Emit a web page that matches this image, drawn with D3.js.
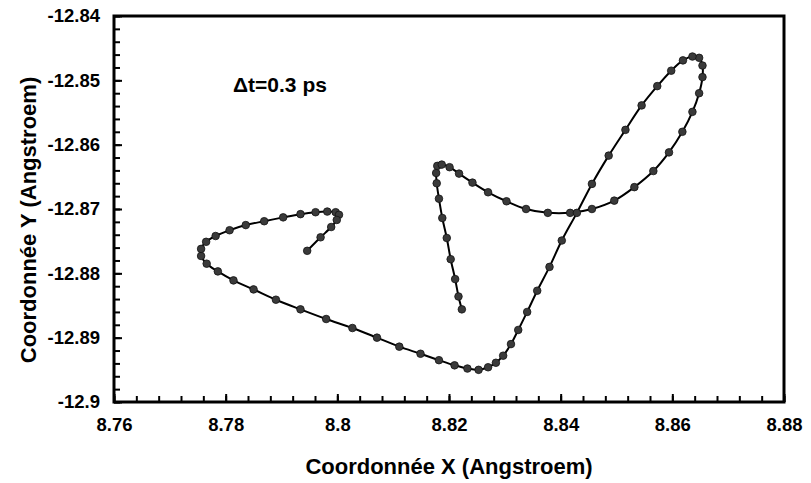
<!DOCTYPE html>
<html>
<head>
<meta charset="utf-8">
<script src="https://cdn.jsdelivr.net/npm/d3@7"></script>
<style>
  body { margin: 0; background: #fff; }
  svg { display: block; font-family: "Liberation Sans", Arial, sans-serif; font-weight: bold; }
</style>
</head>
<body>
<div id="chart"></div>
<script>
// trajectory, in order (x then y, Angstroem)
const xs = [8.8223, 8.8217, 8.8211, 8.8203, 8.8196, 8.8188, 8.8182, 8.8178, 8.8177, 8.8179,
  8.8187, 8.8201, 8.8218, 8.8242, 8.8270, 8.8303, 8.8338, 8.8377, 8.8417, 8.8456,
  8.8496, 8.8532, 8.8566, 8.8594, 8.8618, 8.8636, 8.8648, 8.8654, 8.8654, 8.8648,
  8.8636, 8.8619, 8.8598, 8.8573, 8.8545, 8.8516, 8.8486, 8.8456, 8.8429, 8.8402,
  8.8380, 8.8358, 8.8340, 8.8324, 8.8311, 8.8297, 8.8284, 8.8270, 8.8253, 8.8233,
  8.8210, 8.8182, 8.8149, 8.8111, 8.8071, 8.8027, 8.7980, 8.7934, 8.7890, 8.7850,
  8.7814, 8.7786, 8.7766, 8.7756, 8.7756, 8.7765, 8.7782, 8.7807, 8.7836, 8.7869,
  8.7903, 8.7934, 8.7961, 8.7982, 8.7997, 8.8003, 8.7999, 8.7989, 8.7970, 8.7946]
const ys = [-12.8856, -12.8836, -12.8809, -12.8778, -12.8745, -12.8714, -12.8684, -12.8660, -12.8644, -12.8633,
  -12.8631, -12.8635, -12.8645, -12.8659, -12.8674, -12.8688, -12.8700, -12.8706, -12.8706, -12.8700,
  -12.8687, -12.8666, -12.8641, -12.8612, -12.8580, -12.8549, -12.8520, -12.8495, -12.8477, -12.8465,
  -12.8463, -12.8469, -12.8485, -12.8509, -12.8539, -12.8577, -12.8617, -12.8661, -12.8706, -12.8749,
  -12.8790, -12.8827, -12.8860, -12.8888, -12.8910, -12.8928, -12.8939, -12.8946, -12.8950, -12.8948,
  -12.8943, -12.8935, -12.8925, -12.8914, -12.8900, -12.8885, -12.8871, -12.8856, -12.8841, -12.8825,
  -12.8811, -12.8797, -12.8785, -12.8773, -12.8762, -12.8751, -12.8742, -12.8733, -12.8725, -12.8719,
  -12.8713, -12.8708, -12.8705, -12.8704, -12.8705, -12.8709, -12.8717, -12.8728, -12.8744, -12.8765]

const xTicks = [8.76, 8.78, 8.80, 8.82, 8.84, 8.86, 8.88]
const xLabels = ['8.76', '8.78', '8.8', '8.82', '8.84', '8.86', '8.88']
const yTicks = [-12.84, -12.85, -12.86, -12.87, -12.88, -12.89, -12.90]
const yLabels = ['-12.84', '-12.85', '-12.86', '-12.87', '-12.88', '-12.89', '-12.9']
const xMinorStep = 0.004
const yMinorStep = 0.002
const note = 'Δt=0.3 ps'
const xTitle = 'Coordonnée X (Angstroem)'
const yTitle = 'Coordonnée Y (Angstroem)'

const W = 811, H = 483
const mLeft = 114, mRight = 784, mTop = 16, mBottom = 402

const svg = d3.select('#chart').append('svg').attr('width', W).attr('height', H)

const x = d3.scaleLinear().domain([xTicks[0], xTicks[xTicks.length - 1]]).range([mLeft, mRight])
const y = d3.scaleLinear().domain([yTicks[yTicks.length - 1], yTicks[0]]).range([mBottom, mTop])

// minor ticks
const xMinor = d3.range(xTicks[0], xTicks[xTicks.length - 1] + 1e-9, xMinorStep)
const yMinor = d3.range(yTicks[yTicks.length - 1], yTicks[0] + 1e-9, yMinorStep)

svg.append('g').attr('transform', `translate(0,${mBottom})`)
  .call(d3.axisBottom(x).tickValues(xMinor).tickSize(-6).tickFormat(''))
svg.append('g').attr('transform', `translate(${mLeft},0)`)
  .call(d3.axisLeft(y).tickValues(yMinor).tickSize(-6).tickFormat(''))

const xAxis = svg.append('g').attr('transform', `translate(0,${mBottom})`)
  .call(d3.axisBottom(x).tickValues(xTicks).tickSize(-8)
    .tickFormat((d, i) => xLabels[i]))
const yAxis = svg.append('g').attr('transform', `translate(${mLeft},0)`)
  .call(d3.axisLeft(y).tickValues(yTicks).tickSize(-8)
    .tickFormat((d, i) => yLabels[i]))

svg.selectAll('.domain').remove()
svg.selectAll('.tick line').attr('stroke', '#000').attr('stroke-width', 2)
svg.selectAll('.tick text').attr('fill', '#000').style('font-size', '18.5px')
  .style('font-family', '"Liberation Sans", Arial, sans-serif').style('font-weight', 'bold')
xAxis.selectAll('.tick text').attr('dy', '0.71em').attr('y', 16)
yAxis.selectAll('.tick text').attr('x', -14)

// frame
svg.append('rect')
  .attr('x', mLeft).attr('y', mTop)
  .attr('width', mRight - mLeft).attr('height', mBottom - mTop)
  .attr('fill', 'none').attr('stroke', '#000').attr('stroke-width', 3)

const pts = xs.map((v, i) => [v, ys[i]])

const line = d3.line()
  .x(d => x(d[0]))
  .y(d => y(d[1]))
  .curve(d3.curveCatmullRom.alpha(0.5))

svg.append('path')
  .datum(pts)
  .attr('d', line)
  .attr('fill', 'none')
  .attr('stroke', '#000')
  .attr('stroke-width', 2)

svg.selectAll('circle.pt')
  .data(pts)
  .enter()
  .append('circle')
  .attr('class', 'pt')
  .attr('cx', d => x(d[0]))
  .attr('cy', d => y(d[1]))
  .attr('r', 3.8)
  .attr('fill', '#3a3a3a')
  .attr('stroke', '#111')
  .attr('stroke-width', 0.8)

svg.append('text')
  .attr('x', 233).attr('y', 92)
  .style('font-size', '21px')
  .text(note)

svg.append('text')
  .attr('x', (mLeft + mRight) / 2).attr('y', 474)
  .attr('text-anchor', 'middle')
  .style('font-size', '22px')
  .text(xTitle)

svg.append('text')
  .attr('transform', `translate(36,220) rotate(-90)`)
  .attr('text-anchor', 'middle')
  .style('font-size', '22px')
  .text(yTitle)
</script>
</body>
</html>
